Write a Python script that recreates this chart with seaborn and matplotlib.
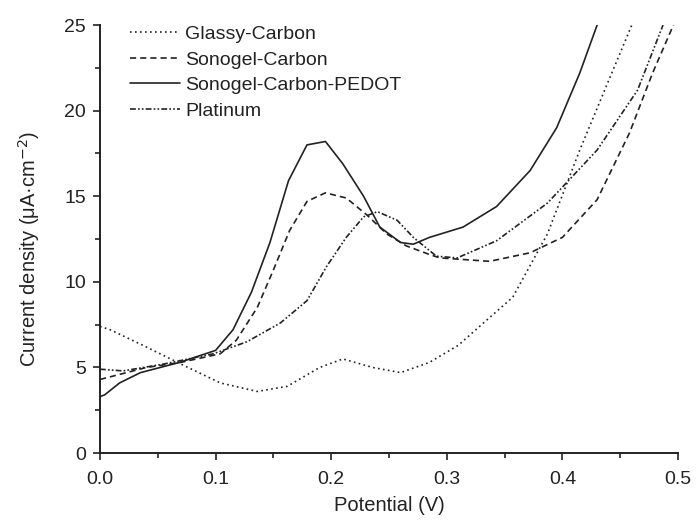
import matplotlib
matplotlib.use("Agg")
import matplotlib.pyplot as plt
from matplotlib.ticker import MultipleLocator
import seaborn as sns
import pandas as pd

sns.set_style("ticks")
plt.rcParams['font.family'] = ['Liberation Sans', 'DejaVu Sans']

gc_x = [0.0, 0.009, 0.04, 0.07, 0.104, 0.136, 0.162, 0.19, 0.21, 0.236, 0.26, 0.285, 0.31, 0.33, 0.357, 0.387, 0.415, 0.439, 0.46]
gc_y = [7.4, 7.2, 6.2, 5.2, 4.1, 3.6, 3.9, 5.0, 5.5, 5.0, 4.7, 5.3, 6.3, 7.5, 9.1, 12.8, 17.7, 21.6, 25.0]

sc_x = [0.0, 0.04, 0.07, 0.104, 0.118, 0.136, 0.15, 0.164, 0.179, 0.195, 0.213, 0.231, 0.248, 0.265, 0.285, 0.294, 0.337, 0.372, 0.40, 0.43, 0.458, 0.478, 0.496]
sc_y = [4.3, 5.0, 5.3, 5.8, 6.6, 8.5, 10.7, 13.0, 14.7, 15.2, 14.9, 13.9, 12.8, 12.1, 11.6, 11.4, 11.2, 11.7, 12.6, 14.8, 18.7, 22.2, 25.0]

sp_x = [0.0, 0.004, 0.017, 0.035, 0.069, 0.1, 0.115, 0.131, 0.147, 0.163, 0.179, 0.195, 0.21, 0.228, 0.242, 0.26, 0.271, 0.285, 0.314, 0.343, 0.372, 0.395, 0.415, 0.43]
sp_y = [3.3, 3.4, 4.1, 4.7, 5.3, 6.0, 7.2, 9.4, 12.3, 15.9, 18.0, 18.2, 16.9, 15.0, 13.2, 12.3, 12.2, 12.6, 13.2, 14.4, 16.5, 19.0, 22.2, 25.0]

pt_x = [0.0, 0.02, 0.055, 0.098, 0.127, 0.156, 0.179, 0.196, 0.213, 0.228, 0.24, 0.257, 0.271, 0.291, 0.309, 0.343, 0.387, 0.43, 0.465, 0.487]
pt_y = [4.9, 4.8, 5.2, 5.8, 6.5, 7.6, 8.9, 10.9, 12.6, 13.8, 14.1, 13.6, 12.6, 11.5, 11.4, 12.4, 14.6, 17.7, 21.2, 25.0]

labels = ["Glassy-Carbon", "Sonogel-Carbon", "Sonogel-Carbon-PEDOT", "Platinum"]
series = [(gc_x, gc_y), (sc_x, sc_y), (sp_x, sp_y), (pt_x, pt_y)]
dashes = [(1, 2.0), (3.7, 2.4), (), (3.5, 1.3, 1, 1.3, 1, 1.3)]

fig = plt.figure(figsize=(6.96, 5.22), dpi=100)
ax = fig.add_axes([0.1437, 0.132, 0.8305, 0.82])

for (xs, ys), lab, d in zip(series, labels, dashes):
    df = pd.DataFrame({"x": xs, "y": ys})
    sns.lineplot(data=df, x="x", y="y", ax=ax, color="#222222", linewidth=1.2,
                 label=lab, sort=False)
    l = ax.get_lines()[-1]
    if d:
        l.set_dashes(d)

ax.set_xlim(0, 0.5)
ax.set_ylim(0, 25)
ax.xaxis.set_major_locator(MultipleLocator(0.1))
ax.xaxis.set_minor_locator(MultipleLocator(0.05))
ax.yaxis.set_major_locator(MultipleLocator(5))
ax.yaxis.set_minor_locator(MultipleLocator(2.5))
ax.xaxis.set_major_formatter(plt.FuncFormatter(lambda v, p: f"{v:.1f}"))
ax.tick_params(which="major", direction="out", length=5, width=1.2, labelsize=14,
               color="#222222", labelcolor="#222222", pad=5)
ax.tick_params(axis="x", which="major", pad=8)
ax.tick_params(which="minor", direction="out", length=3.5, width=1.2, color="#222222")
sns.despine(ax=ax)
for s in ["left", "bottom"]:
    ax.spines[s].set_linewidth(1.4)
    ax.spines[s].set_color("#222222")

ax.set_xlabel("Potential (V)", fontsize=14.5, color="#222222", labelpad=6)
ax.set_ylabel("Current density (μA·cm$^{-2}$)", fontsize=14.5, color="#222222")
ax.yaxis.set_label_coords(-0.10, 0.478)

leg = ax.legend(loc="upper left", frameon=False, fontsize=14, handlelength=2.6,
                handletextpad=0.25, labelspacing=0.42, borderaxespad=0.0,
                bbox_to_anchor=(0.038, 1.018))
for t in leg.get_texts():
    t.set_color("#222222")

fig.savefig("out.png", dpi=100)
